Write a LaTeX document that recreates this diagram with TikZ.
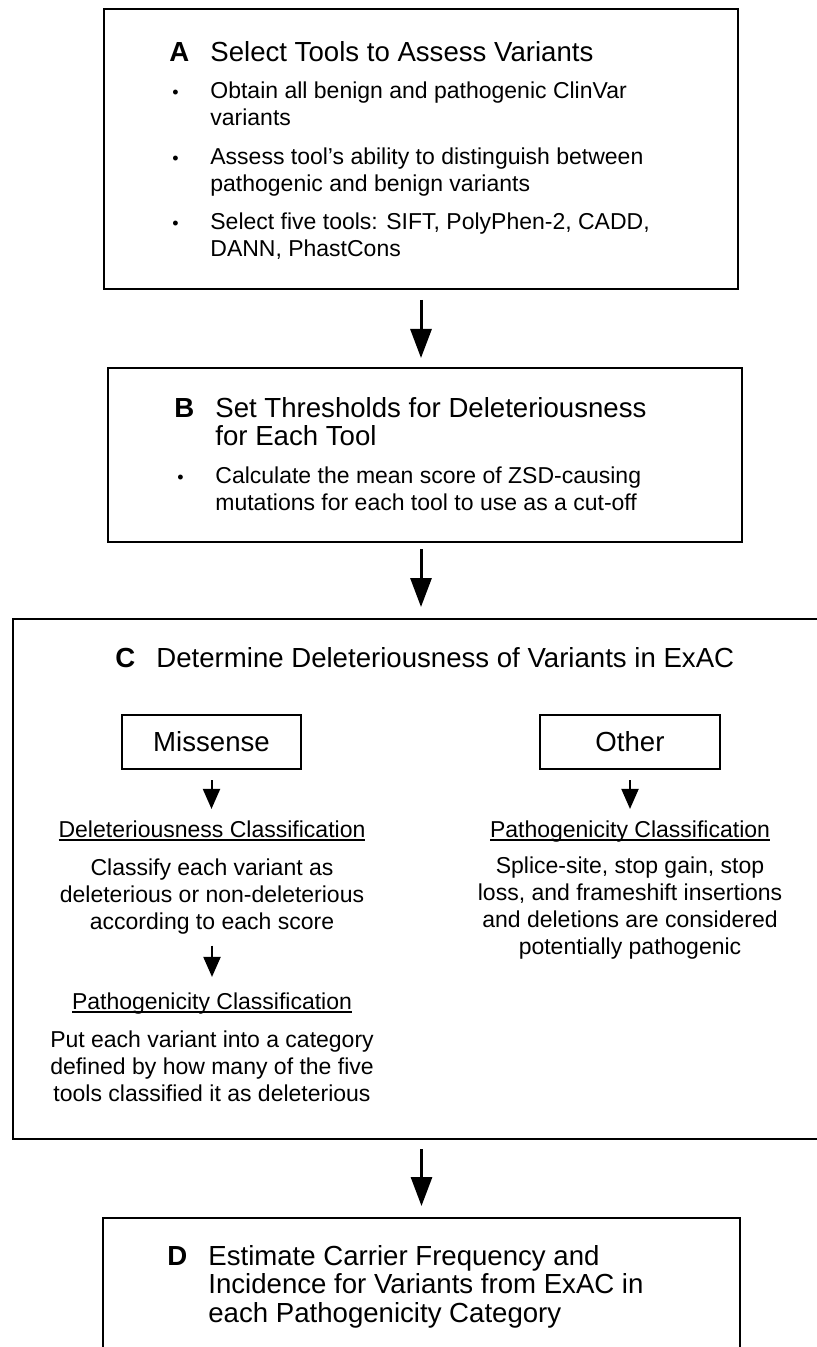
\documentclass[tikz,border=0pt]{standalone}
\usepackage{fontspec}
\setmainfont{Liberation Sans}
\usetikzlibrary{arrows.meta}
\usetikzlibrary{positioning}

% underline that sits close to the baseline
\newcommand{\classline}[1]{\setbox0\hbox{#1}\rlap{\rule[-1.8pt]{\wd0}{0.8pt}}\box0}

\tikzset{
  panel/.style={draw, line width=1pt, inner sep=0pt},
  typebox/.style={draw, line width=1pt, inner sep=0pt, minimum height=27pt,
    font=\fontsize{13.8}{16}\selectfont},
  letter/.style={anchor=base west, inner sep=0pt, font=\fontsize{13.8}{14.4}\selectfont\bfseries},
  title/.style={anchor=base west, inner sep=0pt, align=left, font=\fontsize{13.8}{14.4}\selectfont},
  dot/.style={anchor=base west, inner sep=0pt, font=\fontsize{9}{10}\selectfont},
  body/.style={anchor=base west, inner sep=0pt, align=left, font=\fontsize{11.5}{13.5}\selectfont},
  cbody/.style={anchor=base, inner sep=0pt, align=center, font=\fontsize{11.5}{13.6}\selectfont},
  bigarrow/.style={-{Triangle[width=10.5pt,length=14.5pt]}, line width=1.5pt},
  smallarrow/.style={-{Triangle[width=8.5pt,length=10pt]}, line width=1pt},
}

\begin{document}
\begin{tikzpicture}[x=0.5pt,y=-0.5pt]
  \useasboundingbox (0,0) rectangle (817,1347);
  \clip (0,0) rectangle (817,1347);

  % panels
  \node[panel, minimum width=317pt, minimum height=140pt] (boxA) at (421,149) {};
  \node[panel, minimum width=317pt, minimum height=87pt]  (boxB) at (425,455) {};
  \node[panel, minimum width=408pt, minimum height=260pt] (boxC) at (421,879) {};
  \node[panel, minimum width=318.5pt, minimum height=77pt] (boxD) at (421.5,1295) {};

  % A  (multi-line texts are placed by their last baseline)
  \node[letter] (letA) at (169,62) {A};
  \node[title]  (titA) at (210,62) {Select Tools to Assess Variants};
  \node[dot] (dotA1) at (172,99) {\textbullet};
  \node[body] (txtA1) at (210,126) {Obtain all benign and pathogenic ClinVar\\variants};
  \node[dot] (dotA2) at (172,164.3) {\textbullet};
  \node[body] (txtA2) at (210,191.3) {Assess tool’s ability to distinguish between\\pathogenic and benign variants};
  \node[dot] (dotA3) at (172,230) {\textbullet};
  \node[body] (txtA3) at (210,257) {Select five tools: SIFT, PolyPhen-2, CADD,\\DANN, PhastCons};

  % B
  \node[letter] (letB) at (174,417) {B};
  \node[title]  (titB) at (215,445.8) {Set Thresholds for Deleteriousness\\for Each Tool};
  \node[dot] (dotB1) at (177,483) {\textbullet};
  \node[body] (txtB1) at (215,510) {Calculate the mean score of ZSD-causing\\mutations for each tool to use as a cut-off};

  % C
  \node[letter] (letC) at (115,667) {C};
  \node[title]  (titC) at (156,667) {Determine Deleteriousness of Variants in ExAC};
  \node[typebox, minimum width=89.5pt] (missense) at (211.5,742) {Missense};
  \node[typebox, minimum width=90pt]   (other)    at (630,742)   {Other};

  \node[cbody] (delhead) at (212,837) {\classline{Deleteriousness Classification}};
  \node[cbody] (deltxt)  at (212,929.4) {Classify each variant as\\deleterious or non-deleterious\\according to each score};
  \node[cbody] (pathhead) at (212,1009) {\classline{Pathogenicity Classification}};
  \node[cbody] (pathtxt)  at (212,1101.4) {Put each variant into a category\\defined by how many of the five\\tools classified it as deleterious};

  \node[cbody] (othhead) at (630,837) {\classline{Pathogenicity Classification}};
  \node[cbody] (othtxt)  at (630,954.6) {Splice-site, stop gain, stop\\loss, and frameshift insertions\\and deletions are considered\\potentially pathogenic};

  % D
  \node[letter] (letD) at (167,1265) {D};
  \node[title]  (titD) at (208,1322.6) {Estimate Carrier Frequency and\\Incidence for Variants from ExAC in\\each Pathogenicity Category};

  % arrows
  \draw[bigarrow, shorten <=5pt, shorten >=4.5pt] (boxA.south) -- (boxA.south |- boxB.north);
  \draw[bigarrow, shorten <=3pt, shorten >=5.5pt] (boxC.north |- boxB.south) -- (boxC.north);
  \draw[bigarrow, shorten <=4.5pt, shorten >=5.5pt] (boxD.north |- boxC.south) -- (boxD.north);
  \draw[smallarrow, shorten <=5pt, shorten >=5.5pt] (missense.south) -- (missense.south |- delhead.north);
  \draw[smallarrow, shorten <=5.5pt, shorten >=7.5pt] (deltxt.south) -- (deltxt.south |- pathhead.north);
  \draw[smallarrow, shorten <=5pt, shorten >=5.5pt] (other.south) -- (other.south |- othhead.north);
\end{tikzpicture}
\end{document}
